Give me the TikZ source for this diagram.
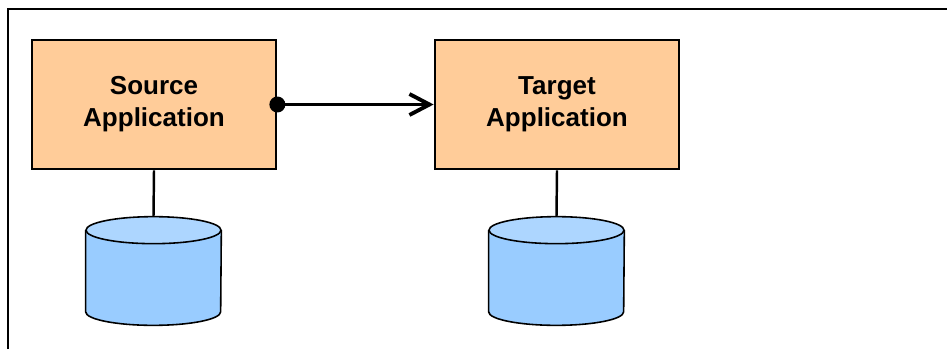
\documentclass[tikz,border=0pt]{standalone}
\usepackage{fontspec}
\setmainfont{Liberation Sans}
\usetikzlibrary{arrows.meta,positioning}
\definecolor{appfill}{HTML}{FFCC99}
\definecolor{dbbody}{HTML}{99CCFF}
\definecolor{dbtop}{HTML}{ADD6FF}

\begin{document}
\begin{tikzpicture}[x=0.02cm,y=0.02cm,
  app/.style={draw,line width=1.6pt,fill=appfill,minimum width=4.88cm,minimum height=2.58cm,
    align=center,font=\fontsize{14.8}{18.2}\selectfont\bfseries},
  db/.style={inner sep=0pt,minimum width=2.7cm,minimum height=2.16cm},
  link/.style={line width=1.4pt},
  dot/.style={circle,fill=black,inner sep=0pt,minimum size=0.32cm}]
  \useasboundingbox (0,0) rectangle (947,349);

  % Frame
  \draw[line width=1.3pt] (8,0) -- (8,340) -- (947,340);

  % Applications
  \node[app] (src) at (154,244.5) {Source\\Application};
  \node[app] (tgt) at (557,244.5) {Target\\Application};

  % Databases
  \node[db] (srcdb) at (153.5,78) {};
  \node[db] (tgtdb) at (556.5,78) {};
  \foreach \d in {srcdb,tgtdb} {
    \draw[line width=0.9pt,fill=dbbody] ([yshift=-0.27cm]\d.north west) -- ([yshift=0.27cm]\d.south west)
      arc[start angle=180,end angle=360,x radius=67.5,y radius=13.5]
      -- ([yshift=-0.27cm]\d.north east);
    \draw[line width=0.9pt,fill=dbtop] ([yshift=-0.27cm]\d.north) ellipse[x radius=67.5,y radius=13.5];
  }
  \draw[link] (src.south) -- (srcdb.north);
  \draw[link] (tgt.south) -- (tgtdb.north);

  % Flow
  \node[dot] (out) at (src.east) {};
  \draw[line width=2.2pt,-{Straight Barb[length=0.4cm,width=0.42cm]}] (out.center) -- (tgt.west);
\end{tikzpicture}
\end{document}
